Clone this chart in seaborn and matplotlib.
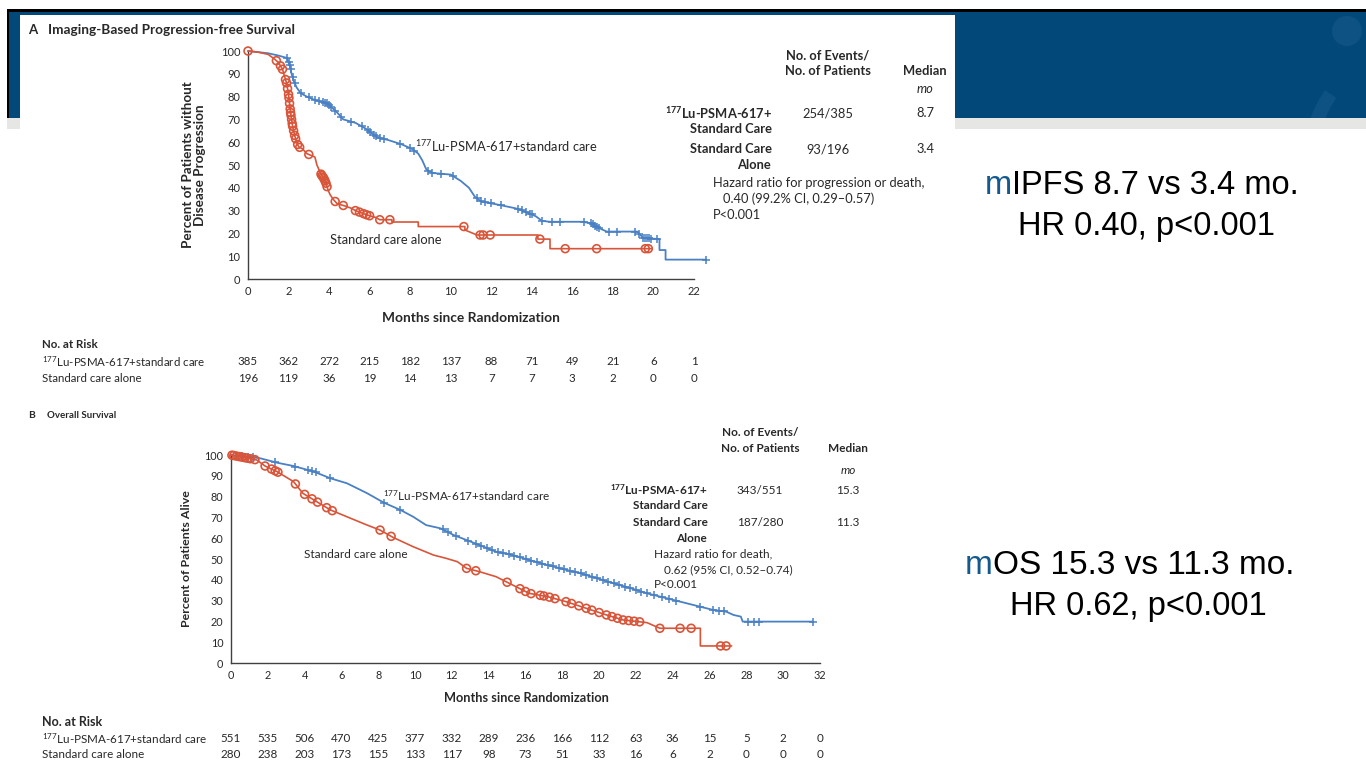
import numpy as np
import matplotlib
matplotlib.use("Agg")
import matplotlib.pyplot as plt
import matplotlib.patches as mpatches
from matplotlib.transforms import blended_transform_factory
import seaborn as sns

W, H = 1366, 771

# ---------------- data ----------------
# Panel A: imaging-based progression-free survival
pfs_ticks = list(range(0, 23, 2))
pfs_risk_lu = [385, 362, 272, 215, 182, 137, 88, 71, 49, 21, 6, 1]
pfs_risk_soc = [196, 119, 36, 19, 14, 13, 7, 7, 3, 2, 0, 0]

pfs_lu_t = [0, 0.5, 1.0, 1.5, 1.9, 2.05, 2.15, 2.25, 2.4, 2.6, 2.9, 3.3, 3.9, 4.1, 4.4,
            4.7, 5.3, 5.8, 6.1, 6.4, 6.9, 7.6, 8.1, 8.4, 8.6, 8.8, 9.1, 10.0, 10.5, 10.9,
            11.2, 11.5, 12.4, 13.2, 13.7, 14.2, 14.5, 14.9, 16.5, 16.9, 17.3, 17.7, 19.2,
            19.5, 20.3, 20.3, 20.6, 20.6, 22.6]
pfs_lu_s = [100, 99.5, 99, 98, 97, 94, 90, 87, 84, 81.5, 80, 78.5, 77, 75.5, 73,
            70, 68.5, 66, 64, 62, 61, 59, 57, 55, 52, 48, 46.5, 45.8, 43, 40,
            36, 34, 32.5, 31, 29.5, 27.5, 25.5, 25.1, 25.1, 24.5, 22.4, 20.8, 20.8,
            18, 17.5, 12.7, 12.7, 8.5, 8.5]
pfs_lu_cens = [1.9, 2.0, 2.05, 2.1, 2.2, 2.3, 2.6, 3.0, 3.3, 3.5, 3.7, 3.8, 3.9, 4.0, 4.1,
               4.3, 4.6, 5.1, 5.6, 5.9, 6.0, 6.2, 6.3, 6.5, 6.7, 7.5, 8.0, 8.2, 8.9, 9.1,
               9.5, 10.1, 11.3, 11.5, 11.7, 12.0, 12.5, 13.3, 13.5, 13.7, 13.9, 14.0, 14.5,
               15.0, 15.4, 16.6, 16.9, 17.0, 17.1, 17.2, 17.3, 17.8, 18.2, 19.1, 19.3, 19.5,
               19.6, 19.7, 19.8, 19.9, 20.2, 22.6]

pfs_soc_t = [0, 0.5, 1.0, 1.3, 1.5, 1.7, 1.8, 1.9, 2.0, 2.05, 2.1, 2.15, 2.2, 2.3, 2.4,
             2.5, 2.7, 2.9, 3.3, 3.4, 3.5, 3.6, 3.75, 3.85, 3.95, 4.05, 4.2, 4.4, 4.8, 5.1,
             5.3, 5.6, 5.9, 6.3, 6.5, 7.1, 7.1, 8.4, 8.4, 10.7, 10.7, 11.3, 14.3, 14.3,
             14.9, 14.9, 19.9]
pfs_soc_s = [100, 99.5, 98.5, 96.5, 95, 92, 89, 86, 81, 77, 73, 70, 67, 63, 60,
             58, 57, 55, 53.5, 50, 48, 46, 44, 42, 39, 37, 35, 33, 32, 31,
             30, 29, 28, 27, 26, 26, 25, 25, 23, 23, 21.5, 19.3, 19.3, 17.5,
             17.5, 13.3, 13.3]
pfs_soc_cens = [0, 1.4, 1.6, 1.7, 1.85, 1.9, 1.95, 2.0, 2.02, 2.05, 2.08, 2.1, 2.12, 2.15,
                2.18, 2.2, 2.25, 2.3, 2.35, 2.45, 2.55, 3.0, 3.6, 3.65, 3.7, 3.75, 3.8, 3.85,
                3.9, 4.3, 4.7, 5.3, 5.5, 5.7, 5.85, 6.0, 6.5, 7.0, 10.65, 11.45, 11.6, 11.95,
                14.4, 15.65, 17.2, 19.6, 19.75]

# Panel B: overall survival
os_ticks = list(range(0, 33, 2))
os_risk_lu = [551, 535, 506, 470, 425, 377, 332, 289, 236, 166, 112, 63, 36, 15, 5, 2, 0]
os_risk_soc = [280, 238, 203, 173, 155, 133, 117, 98, 73, 51, 33, 16, 6, 2, 0, 0, 0]

os_lu_t = [0, 0.9, 1.6, 2.5, 3.4, 4.5, 5.4, 6.3, 7.4, 8.3, 9.2, 9.9, 10.6, 11.4, 12.1,
           12.8, 13.5, 14.4, 15.3, 16.2, 17.2, 18.1, 19.0, 19.9, 20.8, 21.7, 22.6, 23.5,
           24.4, 25.3, 26.2, 26.9, 27.3, 27.7, 27.8, 31.6]
os_lu_s = [100, 99.2, 98.4, 96.3, 94.7, 92, 88.8, 86.4, 81.6, 77.1, 73.6, 70.3, 66.3, 64.7, 61.5,
           59.1, 56.7, 53.5, 51.9, 49.5, 47.1, 45, 43.1, 40.7, 38.3, 36, 33.5, 31.5,
           29.5, 27.5, 25.5, 24.7, 23.1, 22.3, 19.9, 19.9]
os_lu_cens = [0.3, 0.6, 0.9, 1.2, 2.4, 3.5, 4.2, 4.4, 4.6, 5.4, 8.3, 9.2, 11.5, 11.8, 12.2,
              12.9, 13.3, 13.6, 13.9, 14.2, 14.5, 14.8, 15.1, 15.4, 15.7, 16.0, 16.3, 16.6,
              16.9, 17.2, 17.5, 17.8, 18.1, 18.4, 18.7, 19.0, 19.3, 19.6, 19.9, 20.2, 20.5,
              20.8, 21.1, 21.4, 21.7, 22.0, 22.3, 22.6, 23.0, 23.4, 23.8, 24.2, 25.5, 26.2,
              26.5, 26.8, 28.1, 28.4, 28.7, 31.6]

os_soc_t = [0, 1.4, 1.85, 2.5, 3.4, 3.9, 4.8, 5.4, 6.3, 7.4, 8.1, 8.8, 9.9, 11.0, 11.7,
            12.3, 12.8, 13.5, 14.4, 15.3, 16.2, 17.2, 18.2, 19.3, 20.4, 21.3, 22.6, 23.3,
            25.5, 25.5, 27.2]
os_soc_s = [100, 97.6, 94.7, 92, 87.2, 81.6, 76.8, 73.6, 70.3, 66.3, 63.9, 60.4, 55.9, 51.9, 50.3,
            48.7, 45.5, 43.9, 41.5, 37.5, 33.5, 31.9, 29.5, 26.3, 23.1, 20.7, 19.4, 16.7,
            16.7, 8.2, 8.2]
os_soc_cens = [0.05, 0.15, 0.3, 0.45, 0.6, 0.75, 0.9, 1.05, 1.3, 1.85, 2.2, 2.4, 2.55, 3.5,
               4.0, 4.4, 4.7, 5.2, 5.5, 8.1, 8.7, 12.8, 13.3, 15.0, 15.7, 16.0, 16.3, 16.8,
               17.0, 17.3, 17.6, 18.2, 18.5, 18.9, 19.3, 19.6, 20.0, 20.4, 20.7, 21.0, 21.3,
               21.6, 21.9, 22.2, 23.3, 24.4, 25.0, 26.6, 26.9]

# ---------------- style ----------------
BLUE = "#4a80c4"
RED = "#d9553a"
TXT = "#282828"
BANNER = "#02497a"
LOGO = "#0e5183"

sns.set_theme(style="white")
plt.rcParams["font.family"] = ["Lato", "DejaVu Sans"]
plt.rcParams["mathtext.default"] = "regular"

fig = plt.figure(figsize=(W / 100, H / 100), dpi=100)
fig.patch.set_facecolor("white")

bg = fig.add_axes([0, 0, 1, 1])
bg.set_xlim(0, W)
bg.set_ylim(H, 0)
bg.axis("off")
bg.set_zorder(0)

# slide banner and frame
bg.add_patch(mpatches.Rectangle((7, 9), W - 7, 2.5, color="black", lw=0))
bg.add_patch(mpatches.Rectangle((7, 9), 1.5, 109, color="black", lw=0))
banner = mpatches.Rectangle((8.5, 11.5), W - 8.5, 106.5, color=BANNER, lw=0)
bg.add_patch(banner)
bg.add_patch(mpatches.Rectangle((7, 118), W - 7, 11, color="#e6e6e4", lw=0))
# faint logo figure inside the banner
logo = [mpatches.Circle((1347, 31), 15, color=LOGO, lw=0),
        mpatches.Arc((1425, 160), 230, 230, theta1=150, theta2=215, color=LOGO, lw=10),
        mpatches.Arc((1275, 170), 210, 210, theta1=-10, theta2=40, color=LOGO, lw=10)]
for p in logo:
    bg.add_patch(p)
    p.set_clip_path(banner)
# white figure panel
bg.add_patch(mpatches.Rectangle((20, 15), 935, H - 15, color="white", lw=0))

# right-hand summary text
SUMFONT = ["Liberation Sans", "DejaVu Sans"]
SFS = 23.5
MBLUE = "#14598e"
bg.text(1012, 186, "m", ha="right", va="center", fontsize=SFS, color=MBLUE, family=SUMFONT)
bg.text(1012, 186, "IPFS 8.7 vs 3.4 mo.", ha="left", va="center", fontsize=SFS, color="black", family=SUMFONT)
bg.text(1147, 226, "HR 0.40, p<0.001", ha="center", va="center", fontsize=SFS, color="black", family=SUMFONT)
bg.text(993, 566, "m", ha="right", va="center", fontsize=24, color=MBLUE, family=SUMFONT)
bg.text(993, 566, "OS 15.3 vs 11.3 mo.", ha="left", va="center", fontsize=24, color="black", family=SUMFONT)
bg.text(1138, 606, "HR 0.62, p<0.001", ha="center", va="center", fontsize=SFS, color="black", family=SUMFONT)


def frac(x0, y0, x1, y1):
    return [x0 / W, 1 - y1 / H, (x1 - x0) / W, (y1 - y0) / H]


def curve_value(ts, ss, t):
    return float(np.interp(t, ts, ss))


def km_panel(rect, xmax, xend, ticks, lu_t, lu_s, lu_c, soc_t, soc_s, soc_c, tfs):
    ax = fig.add_axes(frac(*rect))
    ax.set_zorder(2)
    ax.set_facecolor("none")
    ax.set_xlim(0, xmax)
    ax.set_ylim(0, 100)
    sns.lineplot(x=lu_t, y=lu_s, ax=ax, color=BLUE, linewidth=1.3, estimator=None, sort=False, zorder=3)
    sns.lineplot(x=soc_t, y=soc_s, ax=ax, color=RED, linewidth=1.2, estimator=None, sort=False, zorder=4)
    lu_y = [curve_value(lu_t, lu_s, t) for t in lu_c]
    soc_y = [curve_value(soc_t, soc_s, t) for t in soc_c]
    ax.scatter(lu_c, lu_y, marker="+", s=40, color=BLUE, linewidths=1.1, zorder=3, clip_on=False)
    ax.scatter(soc_c, soc_y, marker="o", s=32, facecolors="none", edgecolors=RED, linewidths=1.2,
               zorder=5, clip_on=False)
    for ln in ax.lines:
        ln.set_clip_on(False)
    ax.set_xticks(ticks)
    ax.set_yticks(range(0, 101, 10))
    for side in ("top", "right"):
        ax.spines[side].set_visible(False)
    for side in ("left", "bottom"):
        ax.spines[side].set_color("#404040")
        ax.spines[side].set_linewidth(1.0)
    ax.spines["bottom"].set_bounds(0, xend)
    ax.spines["left"].set_bounds(0, 100)
    ax.tick_params(axis="x", direction="in", length=4, width=1.0, color="#404040",
                   labelsize=tfs, labelcolor=TXT, pad=5)
    ax.tick_params(axis="y", direction="out", length=4, width=1.0, color="#404040",
                   labelsize=tfs, labelcolor=TXT, pad=1.5)
    ax.set_xlabel("")
    ax.set_ylabel("")
    return ax


# pixel boxes: x0, y(100%), x1, y(0%)
axA = km_panel((248, 51, 248 + 23 * 20.27, 279), 23, 22, pfs_ticks,
               pfs_lu_t, pfs_lu_s, pfs_lu_cens, pfs_soc_t, pfs_soc_s, pfs_soc_cens, 8.0)
axB = km_panel((231, 455, 820, 663), 32, 32, os_ticks,
               os_lu_t, os_lu_s, os_lu_cens, os_soc_t, os_soc_s, os_soc_cens, 7.8)

FA = 9.3   # text size in panel A
FB = 8.5   # text size in panel B

# panel titles
bg.text(28, 30, "A", fontsize=9.5, weight="bold", color=TXT, va="center")
bg.text(48, 30, "Imaging-Based Progression-free Survival", fontsize=9.8, weight="bold", color=TXT, va="center")
bg.text(28, 416, "B", fontsize=7.4, weight="bold", color=TXT, va="center")
bg.text(47, 416, "Overall Survival", fontsize=7.0, weight="bold", color=TXT, va="center")

# axis titles
bg.text(194, 165, "Percent of Patients without\nDisease Progression", rotation=90, ha="center",
        va="center", fontsize=9.7, weight="bold", color=TXT, linespacing=1.05)
bg.text(471, 318, "Months since Randomization", ha="center", va="center", fontsize=9.9, weight="bold", color=TXT)
bg.text(186, 559, "Percent of Patients Alive", rotation=90, ha="center", va="center",
        fontsize=8.9, weight="bold", color=TXT)
bg.text(526, 698, "Months since Randomization", ha="center", va="center", fontsize=9.2, weight="bold", color=TXT)

# curve labels
axA.text(8.24, 58.3, "$^{177}$Lu-PSMA-617+standard care", fontsize=FA, color=TXT, va="center")
axA.text(4.05, 17.1, "Standard care alone", fontsize=FA, color=TXT, va="center")
axB.text(8.26, 80.3, "$^{177}$Lu-PSMA-617+standard care", fontsize=FB, color=TXT, va="center")
axB.text(3.97, 52.4, "Standard care alone", fontsize=FB, color=TXT, va="center")


def key_table(fs, xe, xn, xm, rows, hr_lines, x_hr, dy):
    y0 = rows["top"]
    bg.text(xn, y0, "No. of Events/", ha="center", va="center", fontsize=fs, weight="bold", color=TXT)
    bg.text(xn, y0 + dy, "No. of Patients", ha="center", va="center", fontsize=fs, weight="bold", color=TXT)
    bg.text(xm, y0 + dy, "Median", ha="center", va="center", fontsize=fs, weight="bold", color=TXT)
    bg.text(xm, rows["mo"], "mo", ha="center", va="center", fontsize=fs, style="italic", color=TXT)
    r1, r2 = rows["r1"], rows["r2"]
    bg.text(xe, r1, "$^{177}$Lu-PSMA-617+", ha="right", va="center", fontsize=fs, weight="bold", color=TXT)
    bg.text(xe, r1 + dy, "Standard Care", ha="right", va="center", fontsize=fs, weight="bold", color=TXT)
    bg.text(xe, r2, "Standard Care", ha="right", va="center", fontsize=fs, weight="bold", color=TXT)
    bg.text(xe - 1, r2 + dy, "Alone", ha="right", va="center", fontsize=fs, weight="bold", color=TXT)
    bg.text(xn, r1, rows["ev1"], ha="center", va="center", fontsize=fs, color=TXT)
    bg.text(xn, r2, rows["ev2"], ha="center", va="center", fontsize=fs, color=TXT)
    bg.text(xm, r1, rows["m1"], ha="center", va="center", fontsize=fs, color=TXT)
    bg.text(xm, r2, rows["m2"], ha="center", va="center", fontsize=fs, color=TXT)
    for i, (line, dx) in enumerate(hr_lines):
        bg.text(x_hr + dx, rows["hr"] + i * dy, line, ha="left", va="center", fontsize=fs, color=TXT)


key_table(FA, 772, 828, 925,
          {"top": 55, "mo": 89, "r1": 113, "r2": 149, "ev1": "254/385", "ev2": "93/196",
           "m1": "8.7", "m2": "3.4", "hr": 183},
          [("Hazard ratio for progression or death,", 0), ("0.40 (99.2% CI, 0.29\u20130.57)", 10),
           ("P<0.001", 0)], 713, 16)
key_table(FB, 708, 760, 848,
          {"top": 433, "mo": 470, "r1": 490, "r2": 523, "ev1": "343/551", "ev2": "187/280",
           "m1": "15.3", "m2": "11.3", "hr": 554},
          [("Hazard ratio for death,", 0), ("0.62 (95% CI, 0.52\u20130.74)", 10),
           ("P<0.001", 0)], 654, 15.5)


def risk_table(ax, ticks, lu, soc, y_head, hfs, fs):
    tr = blended_transform_factory(ax.transData, bg.transData)
    bg.text(42, y_head, "No. at Risk", fontsize=hfs, weight="bold", color=TXT, va="center")
    bg.text(42, y_head + 16.5, "$^{177}$Lu-PSMA-617+standard care", fontsize=fs, color=TXT, va="center")
    bg.text(42, y_head + 33, "Standard care alone", fontsize=fs, color=TXT, va="center")
    for t, a, b in zip(ticks, lu, soc):
        bg.text(t, y_head + 16.5, str(a), transform=tr, ha="center", va="center", fontsize=fs, color=TXT)
        bg.text(t, y_head + 33, str(b), transform=tr, ha="center", va="center", fontsize=fs, color=TXT)


risk_table(axA, pfs_ticks, pfs_risk_lu, pfs_risk_soc, 345, 8.3, 8.3)
risk_table(axB, os_ticks, os_risk_lu, os_risk_soc, 722, 9.0, 8.4)

fig.savefig("out.png", dpi=100)
